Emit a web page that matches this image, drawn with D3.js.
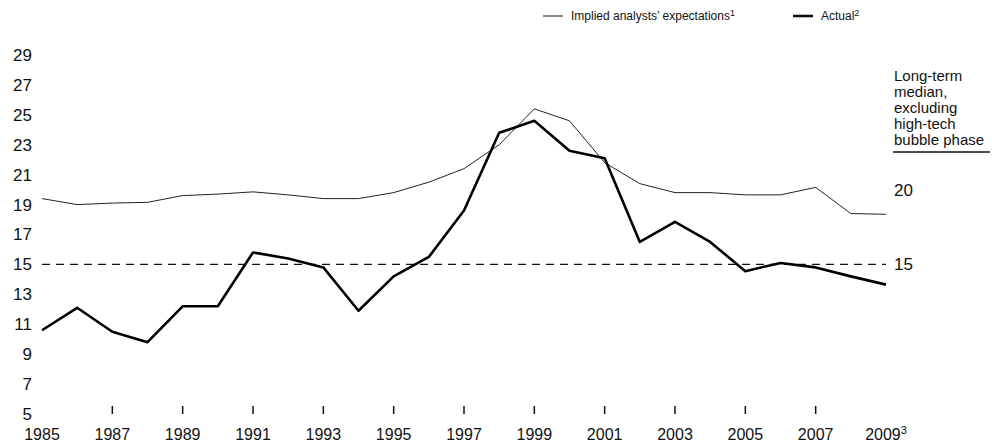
<!DOCTYPE html>
<html>
<head>
<meta charset="utf-8">
<script src="https://cdnjs.cloudflare.com/ajax/libs/d3/7.8.5/d3.min.js"></script>
<style>
    body { margin: 0; background: #fff; }
    text { font-family: "Liberation Sans Narrow", "Liberation Sans", Arial, sans-serif; fill: #111; }
</style>
</head>
<body>
<svg id="chart" width="992" height="446"></svg>
<script>
years = [1985, 1986, 1987, 1988, 1989, 1990, 1991, 1992, 1993, 1994, 1995, 1996, 1997,
         1998, 1999, 2000, 2001, 2002, 2003, 2004, 2005, 2006, 2007, 2008, 2009];
implied = [19.4, 19.0, 19.1, 19.15, 19.6, 19.7, 19.85, 19.65, 19.4, 19.4, 19.8, 20.5, 21.4,
           23.0, 25.4, 24.6, 21.8, 20.4, 19.8, 19.8, 19.65, 19.65, 20.15, 18.4, 18.35];
actual = [10.6, 12.1, 10.5, 9.8, 12.2, 12.2, 15.8, 15.4, 14.8, 11.9, 14.2, 15.5, 18.6,
          23.8, 24.6, 22.6, 22.1, 16.5, 17.85, 16.5, 14.55, 15.1, 14.8, 14.2, 13.65];
yTicks = [5, 7, 9, 11, 13, 15, 17, 19, 21, 23, 25, 27, 29];
xTickYears = [1987, 1989, 1991, 1993, 1995, 1997, 1999, 2001, 2003, 2005, 2007];
xLabels = ['1985', '1987', '1989', '1991', '1993', '1995', '1997', '1999', '2001', '2003', '2005', '2007', '2009'];
medians = [20, 15];
noteLines = ['Long-term', 'median,', 'excluding', 'high-tech', 'bubble phase'];

svg = d3.select('#chart');

xScale = d3.scaleLinear()
            .domain([1985, 2009])
            .range([42, 886]);

yScale = d3.scaleLinear()
            .domain([5, 29])
            .range([414, 55]);

// y labels on the left
svg.selectAll('.ylab')
    .data(yTicks)
    .enter()
    .append('text')
    .attr('x', 32)
    .attr('y', d => yScale(d))
    .attr('dy', '0.35em')
    .attr('text-anchor', 'end')
    .style('font-size', '17px')
    .text(d => d);

// small tick marks above the year labels
svg.selectAll('.xtick')
    .data(xTickYears)
    .enter()
    .append('line')
    .attr('x1', d => xScale(d))
    .attr('x2', d => xScale(d))
    .attr('y1', 406)
    .attr('y2', 414)
    .attr('stroke', '#111')
    .attr('stroke-width', 1.5);

xl = svg.selectAll('.xlab')
    .data(xLabels)
    .enter()
    .append('text')
    .attr('x', d => xScale(+d))
    .attr('y', 440)
    .attr('text-anchor', 'middle')
    .style('font-size', '16px')
    .text(d => d);

xl.filter(d => d == '2009')
    .append('tspan')
    .attr('dy', -6)
    .style('font-size', '11px')
    .text('3');

// dashed median line at 15
svg.append('line')
    .attr('x1', xScale(1985))
    .attr('x2', xScale(2009))
    .attr('y1', yScale(15))
    .attr('y2', yScale(15))
    .attr('stroke', '#111')
    .attr('stroke-width', 1.3)
    .attr('stroke-dasharray', '8,6');

line = d3.line()
        .x((d, i) => xScale(years[i]))
        .y(d => yScale(d));

svg.append('path')
    .datum(implied)
    .attr('d', line)
    .attr('fill', 'none')
    .attr('stroke', '#222')
    .attr('stroke-width', 1);

svg.append('path')
    .datum(actual)
    .attr('d', line)
    .attr('fill', 'none')
    .attr('stroke', '#000')
    .attr('stroke-width', 2.6)
    .attr('stroke-linejoin', 'round');

// right hand note
svg.selectAll('.note')
    .data(noteLines)
    .enter()
    .append('text')
    .attr('x', 894)
    .attr('y', (d, i) => 81 + i * 16)
    .style('font-size', '15px')
    .text(d => d);

svg.append('line')
    .attr('x1', 893)
    .attr('x2', 990)
    .attr('y1', 152)
    .attr('y2', 152)
    .attr('stroke', '#111')
    .attr('stroke-width', 1.3);

svg.selectAll('.med')
    .data(medians)
    .enter()
    .append('text')
    .attr('x', 894)
    .attr('y', d => yScale(d))
    .attr('dy', '0.35em')
    .style('font-size', '17px')
    .text(d => d);

// legend
legend = [
    {name: 'Implied analysts\u2019 expectations', sup: '1', x: 543, w: 1},
    {name: 'Actual', sup: '2', x: 793, w: 2.6}
];

lg = svg.selectAll('.lg')
    .data(legend)
    .enter()
    .append('g')
    .attr('transform', d => `translate(${d.x},16)`);

lg.append('line')
    .attr('x1', 0)
    .attr('x2', 20)
    .attr('stroke', '#111')
    .attr('stroke-width', d => d.w);

lgText = lg.append('text')
    .attr('x', 28)
    .attr('dy', '0.35em')
    .style('font-size', '12px')
    .text(d => d.name);

lgText.append('tspan')
    .attr('dy', -4)
    .style('font-size', '9px')
    .text(d => d.sup);
</script>
</body>
</html>
